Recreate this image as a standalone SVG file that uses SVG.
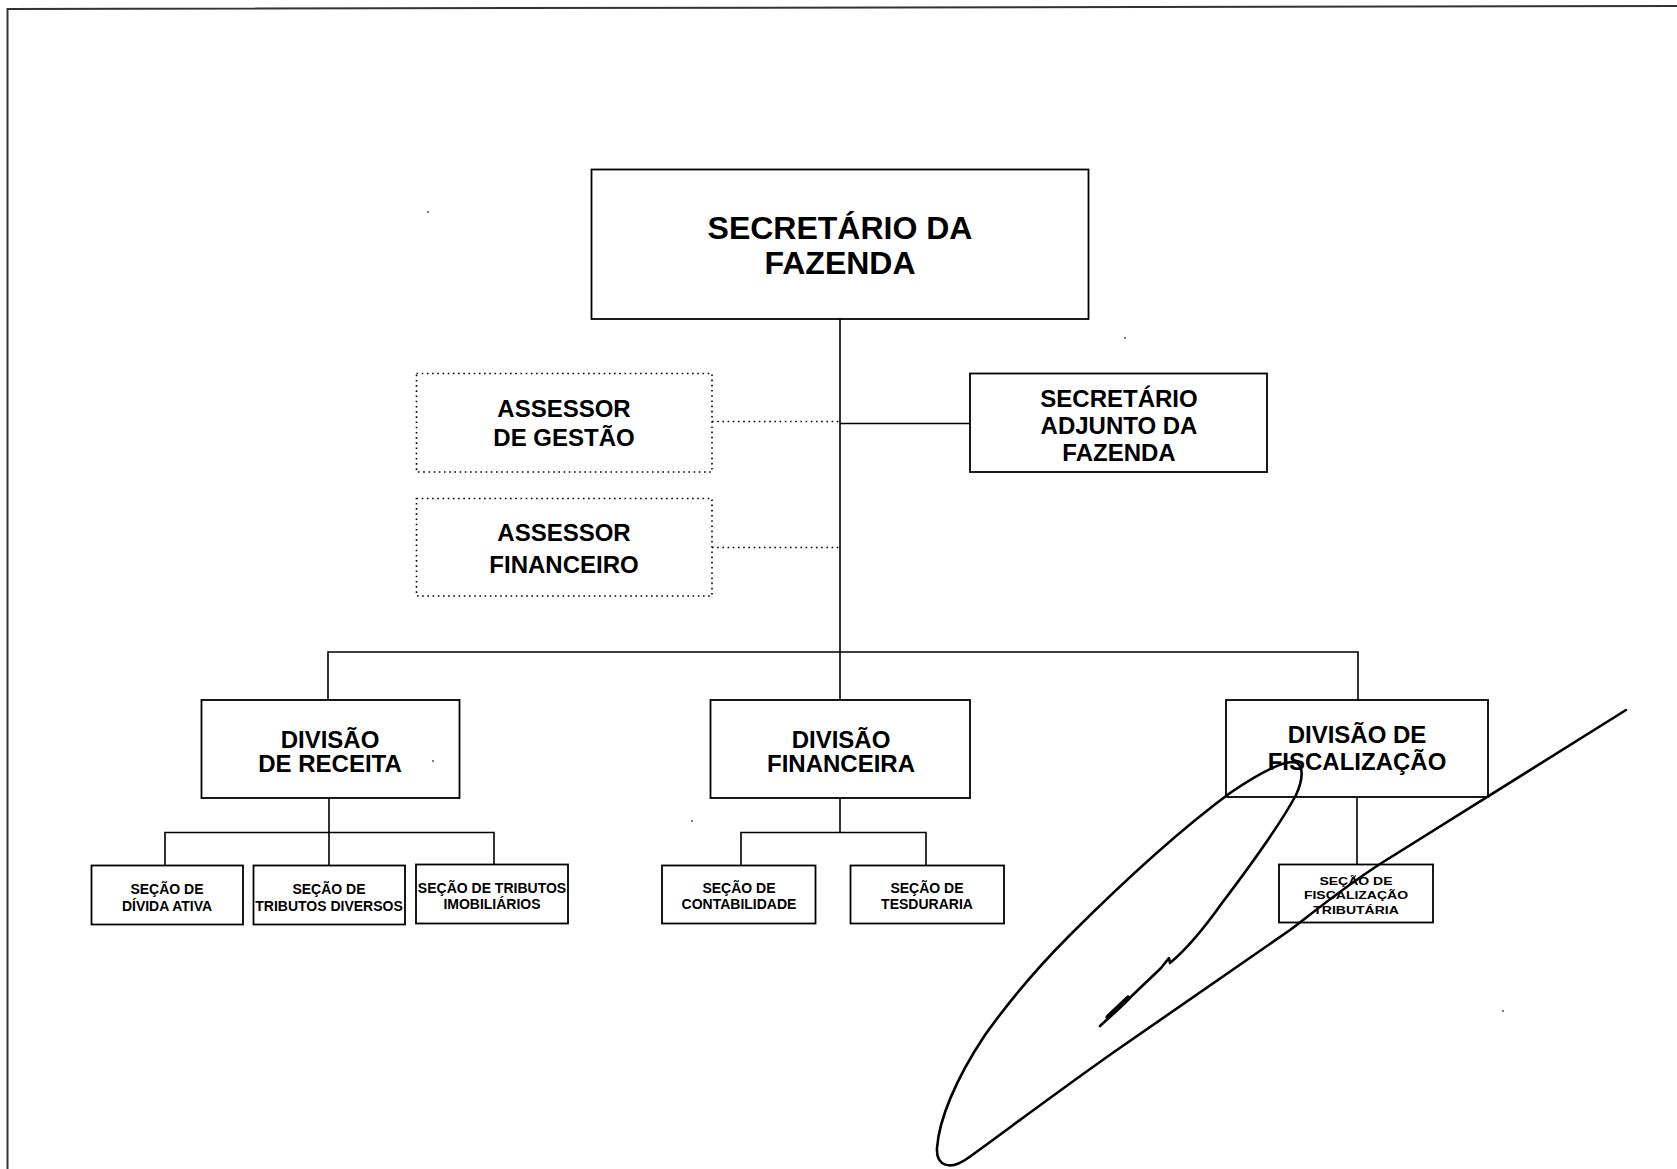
<svg xmlns="http://www.w3.org/2000/svg" width="1677" height="1169" viewBox="0 0 1677 1169">
  <style>
    .box { fill: #fff; stroke: #000; stroke-width: 1.8; }
    .dbox { fill: #fff; stroke: #000; stroke-width: 1.6; stroke-dasharray: 1.6 3.6; }
    .ln { fill: none; stroke: #000; stroke-width: 1.6; }
    .dl { fill: none; stroke: #000; stroke-width: 1.6; stroke-dasharray: 1.6 3.6; }
    .frame { fill: none; stroke: #333; stroke-width: 2; }
    text { font-family: "Liberation Sans", Arial, sans-serif; font-weight: bold; fill: #000; text-anchor: middle; }
    .t32 { font-size: 32px; }
    .t24 { font-size: 24px; }
    .t14 { font-size: 14px; }
    .ink { fill: none; stroke: #000; stroke-width: 2.6; stroke-linecap: round; stroke-linejoin: round; }
  </style>

  <rect width="1677" height="1169" fill="#fff"/>

  <!-- page frame (top and left edges only) -->
  <g id="frame">
    <path class="frame" d="M7.5,1169 L7.5,9 L1677,6"/>
  </g>

  <!-- connectors -->
  <g id="connectors">
    <line class="ln" x1="840" y1="319" x2="840" y2="652"/>
    <line class="dl" x1="712" y1="421.5" x2="840" y2="421.5"/>
    <line class="ln" x1="840" y1="423.5" x2="970" y2="423.5"/>
    <line class="dl" x1="712" y1="547.5" x2="840" y2="547.5"/>
    <path class="ln" d="M328,700 L328,652 L1358,652 L1358,700"/>
    <line class="ln" x1="840" y1="652" x2="840" y2="700"/>
    <!-- receita sections -->
    <path class="ln" d="M165,865 L165,832.5 L494,832.5 L494,865"/>
    <line class="ln" x1="329" y1="798" x2="329" y2="865"/>
    <!-- financeira sections -->
    <path class="ln" d="M741,865 L741,832.5 L926,832.5 L926,865"/>
    <line class="ln" x1="840" y1="798" x2="840" y2="832.5"/>
    <!-- fiscalizacao section -->
    <line class="ln" x1="1357" y1="797" x2="1357" y2="864"/>
  </g>

  <g id="secretario">
    <rect class="box" x="591.5" y="169.5" width="497" height="149.5"/>
    <text class="t32" x="840" y="239">SECRETÁRIO DA</text>
    <text class="t32" x="840" y="274">FAZENDA</text>
  </g>

  <g id="assessor-gestao">
    <rect class="dbox" x="416.5" y="373.5" width="295.5" height="98.5"/>
    <text class="t24" x="564" y="417">ASSESSOR</text>
    <text class="t24" x="564" y="446">DE GESTÃO</text>
  </g>

  <g id="assessor-financeiro">
    <rect class="dbox" x="416.5" y="498.5" width="295.5" height="97.5"/>
    <text class="t24" x="564" y="541">ASSESSOR</text>
    <text class="t24" x="564" y="573">FINANCEIRO</text>
  </g>

  <g id="secretario-adjunto">
    <rect class="box" x="970" y="373.5" width="297" height="98.5"/>
    <text class="t24" x="1119" y="406.5">SECRETÁRIO</text>
    <text class="t24" x="1119" y="433.5">ADJUNTO DA</text>
    <text class="t24" x="1119" y="461">FAZENDA</text>
  </g>

  <g id="divisao-receita">
    <rect class="box" x="201.5" y="700" width="258" height="98"/>
    <text class="t24" x="330" y="747.5">DIVISÃO</text>
    <text class="t24" x="330" y="772">DE RECEITA</text>
  </g>

  <g id="divisao-financeira">
    <rect class="box" x="710.5" y="700" width="259.5" height="98"/>
    <text class="t24" x="841" y="747.5">DIVISÃO</text>
    <text class="t24" x="841" y="772">FINANCEIRA</text>
  </g>

  <g id="divisao-fiscalizacao">
    <rect class="box" x="1226" y="700" width="262" height="97"/>
    <text class="t24" x="1357" y="743">DIVISÃO DE</text>
    <text class="t24" x="1357" y="770">FISCALIZAÇÃO</text>
  </g>

  <g id="secao-divida-ativa">
    <rect class="box" x="91.5" y="865.5" width="151.5" height="59"/>
    <text class="t14" x="167" y="894">SEÇÃO DE</text>
    <text class="t14" x="167" y="911">DÍVIDA ATIVA</text>
  </g>

  <g id="secao-tributos-diversos">
    <rect class="box" x="253.5" y="865.5" width="151.5" height="59"/>
    <text class="t14" x="329" y="894">SEÇÃO DE</text>
    <text class="t14" x="329" y="911">TRIBUTOS DIVERSOS</text>
  </g>

  <g id="secao-tributos-imobiliarios">
    <rect class="box" x="416" y="864.5" width="152" height="59"/>
    <text class="t14" x="492" y="893">SEÇÃO DE TRIBUTOS</text>
    <text class="t14" x="492" y="909">IMOBILIÁRIOS</text>
  </g>

  <g id="secao-contabilidade">
    <rect class="box" x="662" y="865.5" width="153.5" height="58"/>
    <text class="t14" x="739" y="893">SEÇÃO DE</text>
    <text class="t14" x="739" y="909">CONTABILIDADE</text>
  </g>

  <g id="secao-tesouraria">
    <rect class="box" x="850.5" y="865.5" width="153.5" height="58"/>
    <text class="t14" x="927" y="893">SEÇÃO DE</text>
    <text class="t14" x="927" y="909">TESDURARIA</text>
  </g>

  <g id="secao-fiscalizacao-tributaria">
    <rect class="box" x="1279" y="864.5" width="154" height="58"/>
    <!-- three lines set in a vertically squeezed face -->
    <g transform="translate(0,884.5) scale(1,0.82)">
      <text class="t14" x="1356" y="0">SEÇÃO DE</text>
      <text class="t14" x="1356" y="17.7">FISCALIZAÇÃO</text>
      <text class="t14" x="1356" y="35.4">TRIBUTÁRIA</text>
    </g>
  </g>

  <!-- handwritten pen stroke over the lower right -->
  <g id="pen-stroke">
    <path class="ink" d="M1626,710 L1380,864 C1340,890 1310,915 1290,930 L1114,1052 C1060,1090 1000,1135 968,1158 C950,1171 936,1166 937,1148 C939,1120 955,1080 985,1035 C1010,1000 1040,965 1070,935 C1120,885 1180,830 1230,793 C1255,776 1280,762 1293,762 C1305,763 1303,780 1296,795 C1280,825 1250,866 1222,903 C1205,927 1188,948 1170,963 L1169,958 L1161,968 C1150,979 1135,992 1125,1003 L1100,1026"/>
    <path class="ink" style="stroke-width:5" d="M1108,1017 L1128,998"/>
  </g>

  <!-- specks -->
  <g id="specks" fill="#555">
    <circle cx="428" cy="212" r="1"/>
    <circle cx="1125" cy="338" r="1"/>
    <circle cx="433" cy="761" r="1"/>
    <circle cx="692" cy="821" r="1"/>
    <circle cx="1503" cy="1011" r="1"/>
  </g>
</svg>
